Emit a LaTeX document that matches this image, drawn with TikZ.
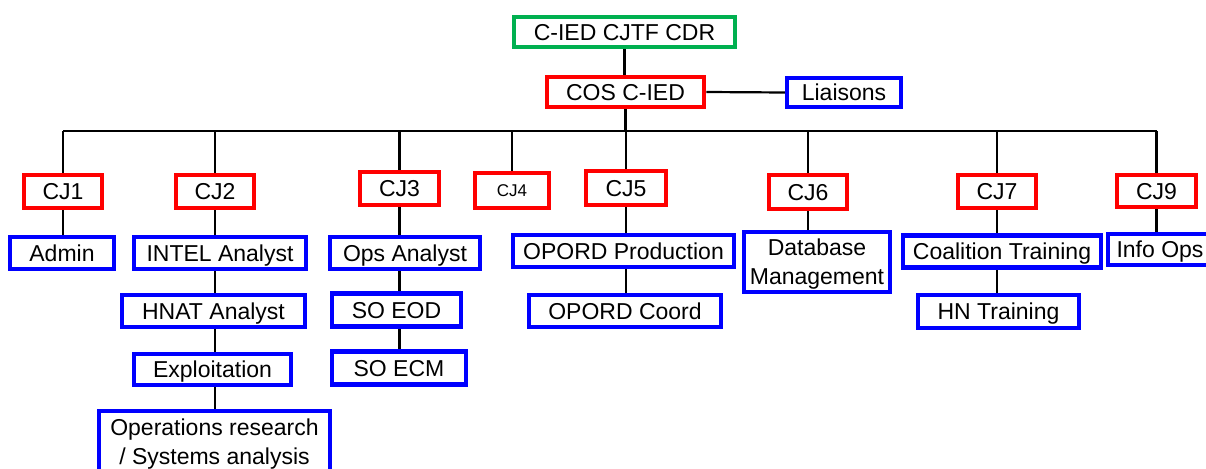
\documentclass[tikz,border=0pt]{standalone}
\usepackage{fontspec}
\setmainfont{Liberation Sans}
\usetikzlibrary{backgrounds}
\newcommand\boxfont{\fontsize{23}{29}\selectfont}
\newcommand\smallboxfont{\fontsize{17}{20}\selectfont}
\definecolor{cdrgreen}{RGB}{0,176,80}
\definecolor{cjred}{RGB}{255,0,0}
\definecolor{cellblue}{RGB}{0,0,255}
\tikzset{
  box/.style={draw, line width=4.5pt, fill=white, inner sep=0pt, align=center,
    font=\boxfont, text height=16.5pt, text depth=0pt},
  twoline/.style={text height=45.5pt, text depth=0pt},
  sz/.style 2 args={minimum width=#1pt, minimum height=#2pt},
  cmd/.style={box, draw=cdrgreen},
  staff/.style={box, draw=cjred},
  cell/.style={box, draw=cellblue},
  link/.style={draw=black, line width=2.2pt},
}
\begin{document}
\begin{tikzpicture}[x=1pt, y=-1pt]
\useasboundingbox (0,0) rectangle (1206,468);

% command level
\node[cmd, sz={221}{30}] (cdr) at (624.5,32) {C-IED CJTF CDR};
\node[staff, sz={157}{30}] (cos) at (625.5,92) {COS C-IED};
\node[cell, sz={114}{29}] (liaisons) at (844,92.5) {Liaisons};

% staff sections
\node[staff, sz={78}{33}] (cj1) at (63,191.5) {CJ1};
\node[staff, sz={78}{33}] (cj2) at (215,191.5) {CJ2};
\node[staff, sz={79}{33}] (cj3) at (399.5,188.5) {CJ3};
\node[staff, sz={74}{35}, font=\smallboxfont, text height=12.2pt] (cj4) at (512,190.5) {CJ4};
\node[staff, sz={80}{34}] (cj5) at (626,188) {CJ5};
\node[staff, sz={78}{34}] (cj6) at (808,192) {CJ6};
\node[staff, sz={78}{33}] (cj7) at (997,191.5) {CJ7};
\node[staff, sz={79}{32}] (cj9) at (1156.5,191) {CJ9};

% cells
\node[cell, sz={104}{32}] (admin) at (62,253) {Admin};
\node[cell, sz={172}{32}] (intel) at (220,253) {INTEL Analyst};
\node[cell, sz={183}{32}] (hnat) at (213.5,311) {HNAT Analyst};
\node[cell, sz={157}{31}] (exploit) at (212.5,369.5) {Exploitation};
\node[cell, twoline, sz={231}{61}] (opres) at (214.5,441.5) {Operations research\\/ Systems analysis};

\node[cell, sz={150}{32}] (opsan) at (405,253) {Ops Analyst};
\node[cell, sz={129}{33}] (soeod) at (396.5,310) {SO EOD};
\node[cell, sz={134}{33}] (soecm) at (399,368) {SO ECM};

\node[cell, sz={221}{32}] (oprod) at (623.5,251) {OPORD Production};
\node[cell, sz={192}{32}] (opcoord) at (625,311) {OPORD Coord};

\node[cell, twoline, sz={146}{60}] (db) at (817,262) {Database\\Management};

\node[cell, sz={198}{32}] (coal) at (1002,251.5) {Coalition Training};
\node[cell, sz={161}{33}] (hn) at (998.5,311.5) {HN Training};

\node[cell, sz={104}{31}] (infoops) at (1160,249.5) {Info Ops};

% connectors
\coordinate (busL) at (63,131);
\coordinate (busR) at (1156.5,131);
\begin{scope}[on background layer]
  \draw[link] (cdr.south) -- (cdr.south |- cos.north);
  \draw[link] (cos.east) -- (liaisons.west);
  \draw[link] (cos.south) -- (cos.south |- busL);
  \draw[link] (busL) -- (busR);
  \foreach \n in {cj1,cj2,cj3,cj4,cj5,cj6,cj7,cj9}
    \draw[link] (\n.north) -- (\n.north |- busL);
  \draw[link] (cj1.south) -- (cj1.south |- admin.north);
  \draw[link] (cj2.south) -- (cj2.south |- intel.north);
  \draw[link] (cj2.south |- intel.south) -- (cj2.south |- hnat.north);
  \draw[link] (cj2.south |- hnat.south) -- (cj2.south |- exploit.north);
  \draw[link] (cj2.south |- exploit.south) -- (cj2.south |- opres.north);
  \draw[link] (cj3.south) -- (cj3.south |- opsan.north);
  \draw[link] (cj3.south |- opsan.south) -- (cj3.south |- soeod.north);
  \draw[link] (cj3.south |- soeod.south) -- (cj3.south |- soecm.north);
  \draw[link] (cj5.south) -- (cj5.south |- oprod.north);
  \draw[link] (cj5.south |- oprod.south) -- (cj5.south |- opcoord.north);
  \draw[link] (cj6.south) -- (cj6.south |- db.north);
  \draw[link] (cj7.south) -- (cj7.south |- coal.north);
  \draw[link] (cj7.south |- coal.south) -- (cj7.south |- hn.north);
  \draw[link] (cj9.south) -- (cj9.south |- infoops.north);
\end{scope}
\end{tikzpicture}
\end{document}
